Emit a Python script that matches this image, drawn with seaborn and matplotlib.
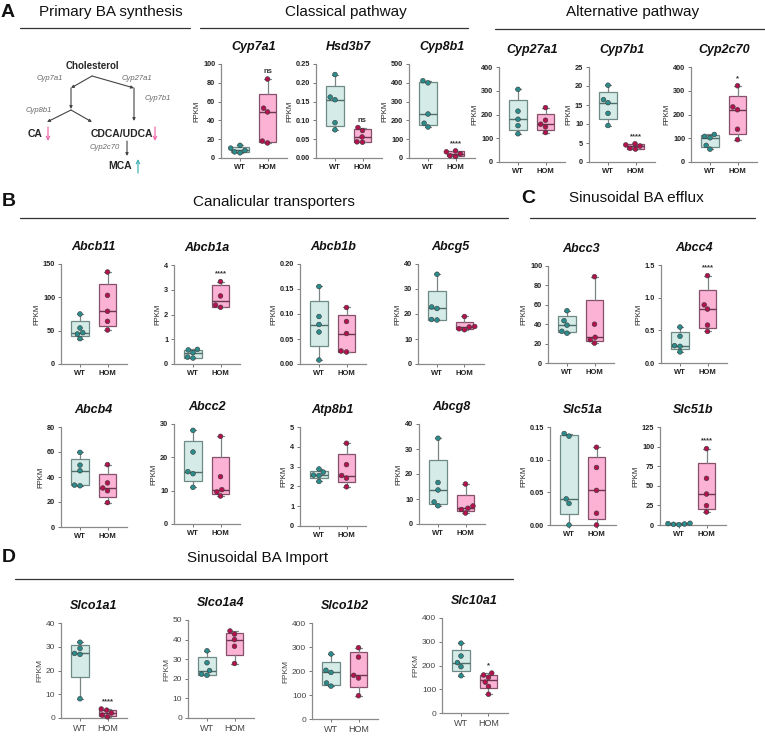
import numpy as np
import pandas as pd
import matplotlib
matplotlib.use("Agg")
import matplotlib.pyplot as plt
import seaborn as sns

# ---- data: FPKM per mouse ----
genes = ["Cyp7a1", "Hsd3b7", "Cyp8b1", "Cyp27a1", "Cyp7b1", "Cyp2c70",
         "Abcb11", "Abcb1a", "Abcb1b", "Abcg5", "Abcc3", "Abcc4",
         "Abcb4", "Abcc2", "Atp8b1", "Abcg8", "Slc51a", "Slc51b",
         "Slco1a1", "Slco1a4", "Slco1b2", "Slc10a1"]
groups = ["WT", "HOM"]

wt_vals = [
    [5.5, 6.5, 8, 10.5, 13.5],
    [0.075, 0.094, 0.155, 0.162, 0.222],
    [165, 185, 234, 400, 411],
    [119, 153, 180, 214, 306],
    [9.6, 12.8, 15.6, 16.4, 20.2],
    [54, 70, 102, 108, 116],
    [38, 45, 47, 54, 75],
    [0.24, 0.28, 0.46, 0.57, 0.59],
    [0.008, 0.064, 0.079, 0.095, 0.155],
    [17.6, 17.8, 22.2, 22.8, 35.9],
    [30.7, 32.7, 39.0, 43.6, 53.9],
    [0.17, 0.255, 0.265, 0.41, 0.55],
    [33.0, 33.5, 45, 49.5, 59.7],
    [11.0, 15.1, 15.7, 21.6, 28.1],
    [2.25, 2.55, 2.57, 2.72, 2.88],
    [7.3, 8.8, 13.6, 16.6, 34.3],
    [0.0, 0.033, 0.040, 0.136, 0.140],
    [0.4, 0.9, 1.3, 1.8, 2.2],
    [8.1, 26.8, 27.2, 29.3, 31.9],
    [21.8, 22.4, 24.2, 28.2, 34.3],
    [137, 150, 194, 203, 271],
    [157, 195, 212, 240, 294],
]
hom_vals = [
    [16, 18, 49, 53, 84],
    [0.042, 0.043, 0.056, 0.073, 0.081],
    [8, 12, 22, 33, 38],
    [124, 148, 159, 176, 229],
    [3.4, 3.6, 4.2, 4.5, 4.8],
    [94, 138, 220, 232, 321],
    [51, 64, 79, 103, 138],
    [2.29, 2.38, 2.75, 3.33],
    [0.024, 0.026, 0.061, 0.085, 0.113],
    [13.7, 14.1, 14.8, 15.0, 19.0],
    [20.5, 24.0, 26.5, 40.0, 89.0],
    [0.483, 0.58, 0.825, 0.89, 1.337],
    [19.5, 29.0, 31.2, 35.3, 49.9],
    [8.4, 9.6, 10.3, 14.2, 26.3],
    [1.98, 2.42, 2.55, 3.10, 4.18],
    [4.4, 5.8, 6.3, 7.2, 16.0],
    [0.0, 0.018, 0.053, 0.088, 0.119],
    [16.6, 24.7, 39.5, 59.5, 97.4],
    [0.5, 1.2, 2.1, 3.3, 3.8],
    [27.8, 36.6, 40.0, 42.8, 44.4],
    [97, 171, 182, 258, 297],
    [79, 112, 130, 150, 160, 168],
]
sig_labels = ["ns", "ns", "****", "", "****", "*",
              "", "****", "", "", "", "****",
              "", "", "", "", "", "****",
              "****", "", "", "*"]
y_max = [100, 0.25, 500, 400, 25, 400, 150, 4, 0.20, 40, 100, 1.5,
         80, 30, 5, 40, 0.15, 125, 40, 50, 400, 400]
y_step = [20, 0.05, 100, 100, 5, 100, 50, 1, 0.05, 10, 20, 0.5,
          20, 10, 1, 10, 0.05, 25, 10, 10, 100, 100]

# ---- layout (pixels): WT position, axes top, axes height ----
layout = [
    (240, 64, 94), (335, 64, 94), (428, 64, 94),
    (518, 67, 95), (608, 67, 95), (710, 67, 95),
    (80, 264, 100), (193, 265, 99), (319, 264, 100), (437, 264, 100),
    (567, 266, 97), (680, 265, 98),
    (80, 427, 100), (193, 424, 100), (319, 427, 99), (438, 424, 100),
    (569, 427, 98), (679, 427, 98),
    (80, 623, 95), (207, 620, 98), (331, 623, 96), (461, 618, 95),
]
UNIT = 27.5

box_fill = ["#d4ebe7", "#fbb2d5"]
box_edge = ["#6e8a87", "#86506b"]
med_col = ["#4f6d6a", "#6e3550"]
dot_col = {"WT": "#2b8c8c", "HOM": "#b3124e"}

sns.set_style("ticks")
plt.rcParams["font.family"] = ["Liberation Sans", "DejaVu Sans"]

W, H = 765, 737
fig = plt.figure(figsize=(W / 100, H / 100), dpi=100)

# background axes in pixel units for headers and the pathway sketch
bg = fig.add_axes([0, 0, 1, 1])
bg.set_xlim(0, W)
bg.set_ylim(H, 0)
bg.axis("off")


def px_axes(left, top, width, height):
    return fig.add_axes([left / W, 1 - (top + height) / H, width / W, height / H])


for i, g in enumerate(genes):
    wx, top, hgt = layout[i]
    panel_d = i >= 18
    ax = px_axes(wx - 0.7 * UNIT, top, 2.4 * UNIT, hgt)
    wt = np.array(wt_vals[i], dtype=float)
    hom = np.array(hom_vals[i], dtype=float)

    df = pd.DataFrame({"group": ["WT"] * len(wt) + ["HOM"] * len(hom),
                       "FPKM": np.r_[wt, hom]})
    sns.swarmplot(data=df, x="group", y="FPKM", hue="group", order=groups,
                  hue_order=groups, palette=dot_col, size=3.4, linewidth=0.4,
                  edgecolor="#3a3a3a", legend=False, ax=ax, zorder=4)
    for c in ax.collections:
        c.set_clip_on(False)

    # GraphPad style box: quartiles (weibull method) and min-to-max whiskers
    stats = []
    for vals in (wt, hom):
        q1, med, q3 = np.percentile(vals, [25, 50, 75], method="weibull")
        stats.append(dict(med=med, q1=q1, q3=q3, whislo=vals.min(),
                          whishi=vals.max(), fliers=[]))
    bp = ax.bxp(stats, positions=[0, 1], widths=0.62, patch_artist=True,
                showfliers=False, manage_ticks=False, capwidths=0.22,
                whiskerprops=dict(color="#7b8585", lw=0.9),
                capprops=dict(color="#7b8585", lw=0.9),
                medianprops=dict(lw=1.0), zorder=2)
    for k in range(2):
        bp["boxes"][k].set_facecolor(box_fill[k])
        bp["boxes"][k].set_edgecolor(box_edge[k])
        bp["boxes"][k].set_linewidth(0.9)
        bp["medians"][k].set_color(med_col[k])

    ax.set_xlim(-0.7, 1.7)
    ax.set_ylim(0, y_max[i])
    ticks = np.arange(0, y_max[i] + y_step[i] / 2, y_step[i])
    ax.set_yticks(ticks)
    dec = 2 if y_step[i] < 0.1 else (1 if y_step[i] < 1 else 0)
    ax.set_yticklabels([f"{t:.{dec}f}" for t in ticks])
    ax.set_xticks([0, 1])
    ax.set_xticklabels(groups)
    ax.set_xlabel("")

    weight = "normal" if panel_d else "bold"
    tcol = "#444444" if panel_d else "#222222"
    ax.set_ylabel("FPKM", fontsize=6 if panel_d else 5.5, color=tcol, labelpad=2)
    ax.tick_params(axis="both", length=2.5, width=0.7, pad=1.5,
                   labelsize=6 if panel_d else 5.3, colors="#777777",
                   labelcolor=tcol)
    ax.tick_params(axis="x", labelsize=6.5 if panel_d else 5.5)
    for lab in ax.get_xticklabels() + ax.get_yticklabels():
        lab.set_fontweight(weight)
    for s in ["left", "bottom"]:
        ax.spines[s].set_color("#8a8a8a")
        ax.spines[s].set_linewidth(0.9)
    sns.despine(ax=ax)
    ax.set_title(g, fontsize=9, fontweight="bold", style="italic", pad=10,
                 color="#111111")

    if sig_labels[i]:
        ax.text(1, hom.max() + 0.04 * y_max[i], sig_labels[i], ha="center",
                va="bottom", fontsize=5.5, fontweight="bold", color="#333333")

# ---- panel letters, section headers and rules ----
headers = [
    ("Primary BA synthesis", 111, 12, 20, 190, 28),
    ("Classical pathway", 346, 12, 200, 468, 28),
    ("Alternative pathway", 633, 12, 495, 765, 29),
    ("Canalicular transporters", 274, 202, 20, 508, 218),
    ("Sinusoidal BA efflux", 636, 198, 530, 755, 218),
    ("Sinusoidal BA Import", 258, 558, 15, 513, 579),
]
for txt, cx, cy, x0, x1, ly in headers:
    bg.text(cx, cy, txt, ha="center", va="center", fontsize=11, color="#111111")
    bg.plot([x0, x1], [ly, ly], color="#333333", lw=0.9)

for letter, lx, ly in [("A", 1, 12), ("B", 2, 201), ("C", 521, 198), ("D", 2, 558)]:
    bg.text(lx, ly, letter, ha="left", va="center", fontsize=14,
            fontweight="bold", color="#111111")

# ---- pathway sketch ----
arrow_kw = dict(arrowstyle="-|>", color="#444444", lw=0.8, mutation_scale=4,
                shrinkA=0, shrinkB=0)
for start, end in [((92, 76), (71, 88)), ((92, 76), (134, 88)),
                   ((71, 88), (71, 109)), ((134, 88), (134, 121)),
                   ((71, 110), (47, 122)), ((71, 110), (92, 122)),
                   ((127, 141), (127, 156))]:
    bg.annotate("", xy=end, xytext=start, arrowprops=arrow_kw)

bg.text(92, 66, "Cholesterol", ha="center", va="center", fontsize=7,
        fontweight="bold")
for txt, x, y in [("Cyp7a1", 50, 78), ("Cyp27a1", 137, 78), ("Cyp7b1", 158, 98),
                  ("Cyp8b1", 39, 110), ("Cyp2c70", 105, 147)]:
    bg.text(x, y, txt, ha="center", va="center", fontsize=5.5, style="italic",
            color="#666666")
bg.text(35, 134, "CA", ha="center", va="center", fontsize=7.5, fontweight="bold")
bg.text(122, 134, "CDCA/UDCA", ha="center", va="center", fontsize=7.5,
        fontweight="bold")
bg.text(120, 166, "MCA", ha="center", va="center", fontsize=7.5, fontweight="bold")

thin = dict(arrowstyle="->", lw=0.9, mutation_scale=6, shrinkA=0, shrinkB=0)
bg.annotate("", xy=(48, 141), xytext=(48, 127), arrowprops=dict(thin, color="#f26aae"))
bg.annotate("", xy=(155, 141), xytext=(155, 127), arrowprops=dict(thin, color="#f26aae"))
bg.annotate("", xy=(138, 159), xytext=(138, 173), arrowprops=dict(thin, color="#44b2b5"))

fig.savefig("out.png", dpi=100)
